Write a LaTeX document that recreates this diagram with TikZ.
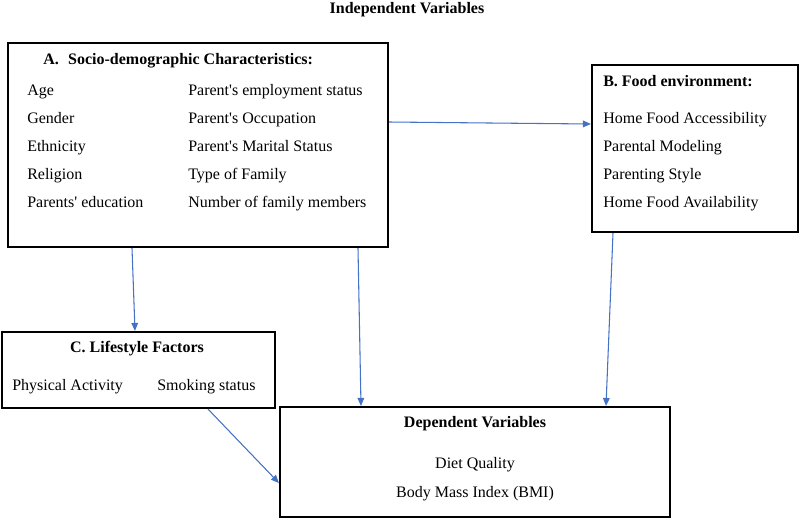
\documentclass[tikz,border=0pt]{standalone}
\usepackage{fontspec}
\setmainfont{Liberation Serif}
\usetikzlibrary{arrows.meta}
\definecolor{arrowblue}{RGB}{68,114,196}
\newcommand{\apos}{\textquotesingle}
\begin{document}
\begin{tikzpicture}[x=0.75pt,y=-0.75pt,
  box/.style={draw=black,line width=1.6pt,rectangle,inner sep=0pt},
  txt/.style={inner sep=0pt,text height=9pt,text depth=3pt,font=\fontsize{12}{14}\selectfont},
  ttl/.style={inner sep=0pt,text height=9pt,text depth=3pt,font=\fontsize{12}{14}\selectfont\bfseries},
  arr/.style={draw=arrowblue,line width=0.8pt,-{Triangle[length=6pt,width=5pt]}}]
\useasboundingbox (0,0) rectangle (800,519);
% title
\node[ttl] (title) at (407,9) {Independent Variables};
% boxes
\node[box,minimum width=285pt,minimum height=153pt] (A) at (198,145) {};
\node[box,minimum width=154.5pt,minimum height=125.25pt] (B) at (695,148.5) {};
\node[box,minimum width=204.75pt,minimum height=57pt] (C) at (138.5,370) {};
\node[box,minimum width=292.5pt,minimum height=82.5pt] (D) at (475,462) {};
% box A text
\node[ttl,anchor=west] (Atitle) at (43,60) {A.\hspace{7pt}Socio-demographic Characteristics:};
\node[txt,anchor=west] (a1) at (27,91) {Age};
\node[txt,anchor=west] (a2) at (27,119) {Gender};
\node[txt,anchor=west] (a3) at (27,147) {Ethnicity};
\node[txt,anchor=west] (a4) at (27,175) {Religion};
\node[txt,anchor=west] (a5) at (27,203) {Parents\apos{} education};
\node[txt,anchor=west] (a6) at (188,91) {Parent\apos{}s employment status};
\node[txt,anchor=west] (a7) at (188,119) {Parent\apos{}s Occupation};
\node[txt,anchor=west] (a8) at (188,147) {Parent\apos{}s Marital Status};
\node[txt,anchor=west] (a9) at (188,175) {Type of Family};
\node[txt,anchor=west] (a10) at (188,203) {Number of family members};
% box B text
\node[ttl,anchor=west] (Btitle) at (603,82) {B. Food environment:};
\node[txt,anchor=west] (b1) at (603,119) {Home Food Accessibility};
\node[txt,anchor=west] (b2) at (603,147) {Parental Modeling};
\node[txt,anchor=west] (b3) at (603,175) {Parenting Style};
\node[txt,anchor=west] (b4) at (603,203) {Home Food Availability};
% box C text
\node[ttl] (Ctitle) at (137,348) {C. Lifestyle Factors};
\node[txt,anchor=west] (c1) at (12,386) {Physical Activity};
\node[txt,anchor=west] (c2) at (157,386) {Smoking status};
% box D text
\node[ttl] (Dtitle) at (475,423) {Dependent Variables};
\node[txt] (d1) at (475,464) {Diet Quality};
\node[txt] (d2) at (475,493) {Body Mass Index (BMI)};
% arrows
\draw[arr] (A.east |- 0,122) -- (B.west |- 0,124);
\draw[arr] (A.south -| 132,0) -- (C.north -| 135,0);
\draw[arr] (A.south -| 358,0) -- (D.north -| 361,0);
\draw[arr] (B.south -| 613,0) -- (D.north -| 606,0);
\draw[arr] (C.south -| 208,0) -- (D.west |- 0,483);
\end{tikzpicture}
\end{document}
